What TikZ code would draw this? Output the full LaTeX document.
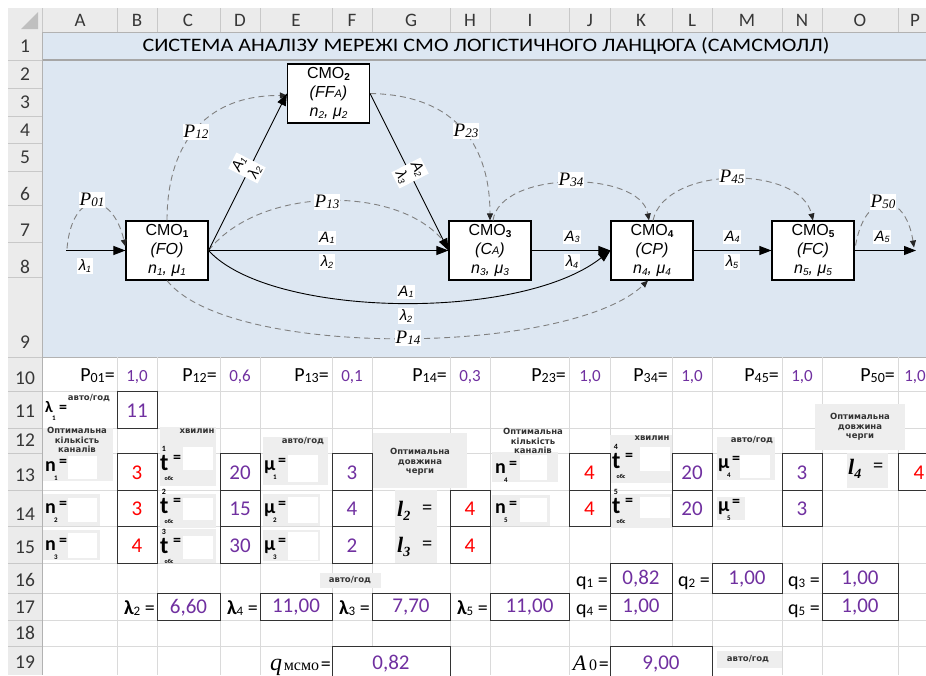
\documentclass[tikz,border=0pt]{standalone}
\usepackage{fontspec}
\setmainfont{Carlito}
\newfontfamily\arialf{Liberation Sans}
\newfontfamily\timesf{Liberation Serif}
\newfontfamily\dejaf{DejaVu Sans}
\usetikzlibrary{arrows.meta,calc}

\newcommand\fsz[1]{\fontsize{#1}{#1}\selectfont}
% lowered small index
\newcommand\lo[2][8]{\raisebox{-1.5pt}{\fsz{#1}#2}}

\definecolor{sheetblue}{RGB}{221,231,242}
\definecolor{hdrgray}{RGB}{235,235,235}
\definecolor{hdrline}{RGB}{200,200,200}
\definecolor{gridgray}{RGB}{218,218,218}
\definecolor{blockgray}{RGB}{238,238,238}
\definecolor{valpurple}{RGB}{112,48,160}
\definecolor{valred}{RGB}{255,0,0}
\definecolor{hdrtext}{RGB}{55,55,55}

% framed value cell: x1 y1 x2 y2 colour text name
\newcommand\valbox[7]{%
  \draw[boxline] (#1,#2) rectangle (#3,#4);
  \node[text=#5, font=\fsz{21}, inner sep=0pt] (#7) at ({(#1+#3)/2},{(#2+#4)/2+1}) {#6};}
% grey text-box patch and white inset
\newcommand\patch[4]{\fill[blockgray] (#1,#2) rectangle (#3,#4);}
\newcommand\inset[4]{\fill[white] (#1,#2) rectangle (#3,#4);}
% bold symbol with lower index and raised equals sign: x, baseline, symbol, index, name
\newcommand\symlab[5]{%
  \node[anchor=base west, inner sep=0pt, font=\bfseries\fsz{20}] (#5) at (#1,#2) {#3};
  \node[inner sep=0pt, font=\bfseries\fsz{7}] (#5i) at ({#1+11},{#2+7}) {#4};
  \node[inner sep=0pt, font=\bfseries\fsz{16}] (#5e) at ({#1+18},{#2-8}) {=};}
% service time t with upper index, equals sign and lower "обс"
\newcommand\tlab[4]{%
  \node[anchor=base west, inner sep=0pt, font=\bfseries\fsz{24}] (#4) at (#1,#2) {t};
  \node[inner sep=0pt, font=\bfseries\fsz{8}] (#4u) at ({#1+4},{#2-21}) {#3};
  \node[inner sep=0pt, font=\bfseries\fsz{16}] (#4e) at ({#1+17},{#2-11}) {=};
  \node[inner sep=0pt, font=\bfseries\fsz{6}] (#4o) at ({#1+9},{#2+8}) {обс};}
% queue length l with index
\newcommand\llab[4]{%
  \node[anchor=base west, inner sep=0pt, font=\timesf\bfseries\itshape\fsz{22}] (#4) at (#1,#2) {l\raisebox{-4pt}{\fsz{14}#3}};
  \node[anchor=base west, inner sep=0pt, font=\timesf\bfseries\fsz{18}] (#4e) at ({#1+25},{#2-3}) {=};}

\tikzset{
  smo/.style={draw=black, line width=1.1pt, fill=white, minimum width=82pt,
    minimum height=59pt, inner sep=0pt, align=center,
    font=\arialf\fontsize{16}{19}\selectfont},
  flow/.style={line width=0.9pt, draw=black, -{Triangle[length=12pt,width=9pt]}},
  prob/.style={draw=black!50, line width=0.9pt, dash pattern=on 6pt off 4pt,
    -{Triangle[length=7pt,width=6pt,color=black!85]}},
  plab/.style={fill=white, inner sep=1pt, font=\timesf\itshape\fsz{19}},
  alab/.style={fill=white, inner sep=1.5pt, font=\arialf\itshape\fsz{15}},
  rlab/.style={fill=white, inner sep=1.5pt, align=center, font=\arialf\itshape\fontsize{15}{18}\selectfont},
  hdr/.style={font=\fsz{19}, text=hdrtext, inner sep=0pt},
  rnum/.style={font=\fsz{19.5}, text=hdrtext, inner sep=0pt},
  boxline/.style={draw=black!80, line width=0.8pt, fill=white},
  tiny/.style={font=\dejaf\bfseries\fontsize{8.5}{9.3}\selectfont, text=black!80, align=center, inner sep=0pt},
  pname/.style={anchor=base east, inner sep=0pt, font=\fsz{20}},
  pval/.style={anchor=base, inner sep=0pt, font=\fsz{17}, text=valpurple},
  eqlab/.style={anchor=base east, inner sep=0pt, font=\fsz{20}},
}

\begin{document}
\begin{tikzpicture}[x=1pt,y=-1pt]
\useasboundingbox (0,0) rectangle (926,675);
\fill[white] (0,0) rectangle (926,675);

% ---------- sheet background and grid ----------
\fill[sheetblue] (42,32) rectangle (926,357);
\draw[black!35, line width=1.5pt] (42,60) -- (926,60);
\draw[black!30, line width=1pt] (42,357) -- (926,357);
\foreach \yy in {391,428,453,490,526,563,593,620,646}
  \draw[gridgray, line width=0.7pt] (42,\yy) -- (926,\yy);
\foreach \xx in {117,157,220,260,332,372,450,490,569,610,672,712,782,822,898}
  \draw[gridgray, line width=0.7pt] (\xx,357) -- (\xx,675);

% column header band
\fill[hdrgray] (8,8) rectangle (926,32);
\draw[black!30, line width=0.8pt] (8,32) -- (926,32);
\foreach \xx in {42,117,157,220,260,332,372,450,490,569,610,672,712,782,822,898}
  \draw[hdrline, line width=0.7pt] (\xx,8) -- (\xx,32);
\fill[black!25] (38,12) -- (38,29) -- (21,29) -- cycle;
\foreach \lab/\xx in {A/80,B/137,C/188,D/240,E/296,F/352,G/411,H/470,I/530,J/590,K/641,L/692,M/747,N/802,O/860,P/915}
  \node[hdr] (h\lab) at (\xx,20) {\lab};

% row number band
\fill[hdrgray] (8,32) rectangle (42,675);
\draw[black!30, line width=0.8pt] (42,32) -- (42,675);
\foreach \yy in {60,88,116,143,171,205,242,277,357,391,428,453,490,526,563,593,620,646}
  \draw[hdrline, line width=0.7pt] (8,\yy) -- (42,\yy);
\foreach \num/\yy in {1/46,2/74,3/102,4/130,5/157,6/194,7/230,8/267,9/342,10/378,11/411,12/440,13/475,14/514,15/547,16/580,17/607,18/633,19/662}
  \node[rnum] (r\num) at (25,\yy) {\num};

% ---------- title ----------
\node[inner sep=0pt] (title) at (486,46)
  {\scalebox{1.16}[1]{\fsz{19}СИСТЕМА АНАЛІЗУ МЕРЕЖІ СМО ЛОГІСТИЧНОГО ЛАНЦЮГА (САМСМОЛЛ)}};

% ---------- queueing network ----------
\node[smo] (c1) at (167,250.5) {СМО\lo[10]{\bfseries 1}\\\textit{(FO)}\\\textit{n\lo[10]{1}, μ\lo[10]{1}}};
\node[smo] (c2) at (328.5,93.5) {СМО\lo[10]{\bfseries 2}\\\textit{(FF{\fsz{11}A})}\\\textit{n\lo[10]{2}, μ\lo[10]{2}}};
\node[smo] (c3) at (490,250.5) {СМО\lo[10]{\bfseries 3}\\\textit{(C{\fsz{11}A})}\\\textit{n\lo[10]{3}, μ\lo[10]{3}}};
\node[smo] (c4) at (652,250.5) {СМО\lo[10]{\bfseries 4}\\\textit{(CP)}\\\textit{n\lo[10]{4}, μ\lo[10]{4}}};
\node[smo] (c5) at (813,250.5) {СМО\lo[10]{\bfseries 5}\\\textit{(FC)}\\\textit{n\lo[10]{5}, μ\lo[10]{5}}};
\coordinate (in) at (66,250.5);
\coordinate (out) at (916,250.5);

% transition probabilities (dashed)
\draw[prob] ($(in)+(1,-2)$) .. controls (72,190) and (112,190) .. ($(c1.west)+(0,-4)$);
\draw[prob] (c1.north) .. controls (167,150) and (200,95) .. ($(c2.west)+(0,2)$);
\draw[prob] (c2.east) .. controls (460,95) and (490,150) .. (c3.north);
\draw[prob] (c1.east) .. controls (260,185) and (400,185) .. ($(c3.west)+(0,-3)$);
\draw[prob] (c1.south) .. controls (230,360) and (570,355) .. ($(c4.south)+(-4,0)$);
\draw[prob] ($(c3.north)+(3,0)$) .. controls (500,170) and (640,170) .. ($(c4.north)+(-3,0)$);
\draw[prob] ($(c4.north)+(1,0)$) .. controls (665,165) and (800,165) .. (c5.north);
\draw[prob] ($(c5.east)+(1,-5)$) .. controls (865,190) and (905,190) .. ($(out)+(-2,-3)$);

% flows (solid)
\draw[flow] (in) -- (c1.west);
\draw[flow] (c1.east) -- (c2.west);
\draw[flow] (c2.east) -- (c3.west);
\draw[flow] (c1.east) -- (c3.west);
\draw[flow] (c1.east) .. controls (270,318) and (520,322) .. (c4.west);
\draw[flow] (c3.east) -- (c4.west);
\draw[flow] (c4.east) -- (c5.west);
\draw[flow] (c5.east) -- (out);

% connector labels
\node[alab] (lin) at (85,266) {λ\lo[9]{1}};
\node[plab] (p01) at (92,200) {P\lo[13]{01}};
\node[plab] (p12) at (196,132) {P\lo[13]{12}};
\node[plab] (p23) at (466,131) {P\lo[13]{23}};
\node[plab] (p13) at (327,202) {P\lo[13]{13}};
\node[plab] (p14) at (408,338) {P\lo[13]{14}};
\node[plab] (p34) at (571,180) {P\lo[13]{34}};
\node[plab] (p45) at (732,177) {P\lo[13]{45}};
\node[plab] (p50) at (883,202) {P\lo[13]{50}};
\node[rlab, rotate=63] (f12) at (247,168) {A\lo[9]{1}\\λ\lo[9]{2}};
\node[rlab, rotate=-63] (f23) at (410,173) {A\lo[9]{2}\\λ\lo[9]{3}};
\node[alab] (f13a) at (327,238) {A\lo[9]{1}};
\node[alab] (f13b) at (327,262) {λ\lo[9]{2}};
\node[alab] (f14a) at (406,292) {A\lo[9]{1}};
\node[alab] (f14b) at (406,316) {λ\lo[9]{2}};
\node[alab] (f34a) at (572,237) {A\lo[9]{3}};
\node[alab] (f34b) at (572,262) {λ\lo[9]{4}};
\node[alab] (f45a) at (732,237) {A\lo[9]{4}};
\node[alab] (f45b) at (732,262) {λ\lo[9]{5}};
\node[alab] (f50a) at (882,237) {A\lo[9]{5}};

% ---------- input table ----------
% row 10: probabilities
\node[pname] (n01) at (115,381) {P\lo[14]{01}=};  \node[pval] (v01) at (137,381) {1,0};
\node[pname] (n12) at (217,381) {P\lo[14]{12}=};  \node[pval] (v12) at (240,381) {0,6};
\node[pname] (n13) at (329,381) {P\lo[14]{13}=};  \node[pval] (v13) at (352,381) {0,1};
\node[pname] (n14) at (447,381) {P\lo[14]{14}=};  \node[pval] (v14) at (470,381) {0,3};
\node[pname] (n23) at (566,381) {P\lo[14]{23}=};  \node[pval] (v23) at (590,381) {1,0};
\node[pname] (n34) at (668,381) {P\lo[14]{34}=};  \node[pval] (v34) at (692,381) {1,0};
\node[pname] (n45) at (779,381) {P\lo[14]{45}=};  \node[pval] (v45) at (802,381) {1,0};
\node[pname] (n50) at (895,381) {P\lo[14]{50}=};  \node[pval] (v50) at (915,381) {1,0};

% grey text-box patches
\patch{43}{428}{113}{481} \inset{68}{456}{97}{479}
\patch{43}{494}{100}{526} \inset{68}{498}{97}{522}
\patch{43}{530}{100}{560} \inset{68}{533}{97}{558}
\patch{160}{427}{216}{486} \inset{183}{447}{213}{470}
\patch{160}{494}{216}{528} \inset{183}{498}{213}{520}
\patch{160}{529}{216}{563} \inset{183}{536}{213}{559}
\patch{263}{437}{328}{485} \inset{288}{455}{318}{482}
\patch{263}{494}{320}{526} \inset{288}{497}{318}{523}
\patch{263}{530}{320}{561} \inset{288}{532}{318}{560}
\patch{373}{433}{467}{488}
\patch{395}{490}{437}{530}
\patch{395}{530}{437}{563}
\patch{492}{452}{558}{482} \inset{520}{455}{547}{480}
\patch{492}{495}{550}{526} \inset{520}{498}{547}{522}
\patch{610}{435}{672}{483} \inset{640}{447}{670}{471}
\patch{610}{494}{672}{528} \inset{640}{497}{670}{518}
\patch{717}{437}{775}{480} \inset{740}{455}{770}{478}
\patch{717}{497}{745}{520}
\patch{815}{404}{905}{450}
\patch{847}{453}{888}{488}
\patch{320}{573}{381}{588}
\patch{717}{651}{782}{668}

% unit and caption notes
\node[tiny] (u11) at (89,398) {авто/год};
\node[tiny] (k1) at (77,440) {Оптимальна\\кількість\\каналів};
\node[tiny] (m1) at (197,431) {хвилин};
\node[tiny] (u13) at (303,441) {авто/год};
\node[tiny] (o1) at (420,462) {Оптимальна\\довжина\\черги};
\node[tiny] (k2) at (533,441) {Оптимальна\\кількість\\каналів};
\node[tiny] (m2) at (652,438) {хвилин};
\node[tiny] (u23) at (752,440) {авто/год};
\node[tiny] (o2) at (860,427) {Оптимальна\\довжина\\черги};
\node[tiny] (u16) at (350,580) {авто/год};
\node[tiny] (u19) at (748,659) {авто/год};

% symbols
\node[anchor=base west, inner sep=0pt, font=\bfseries\fsz{16}] (lam1) at (45,412) {λ};
\node[inner sep=0pt, font=\bfseries\fsz{7}] (lam1i) at (54,418) {1};
\node[inner sep=0pt, font=\bfseries\fsz{16}] (lam1e) at (63,409) {=};
\symlab{45}{471}{n}{1}{sn1}
\symlab{45}{513}{n}{2}{sn2}
\symlab{45}{550}{n}{3}{sn3}
\symlab{495}{473}{n}{4}{sn4}
\symlab{495}{513}{n}{5}{sn5}
\symlab{264}{470}{μ}{1}{sm1}
\symlab{264}{513}{μ}{2}{sm2}
\symlab{264}{550}{μ}{3}{sm3}
\symlab{718}{468}{μ}{4}{sm4}
\symlab{718}{511}{μ}{5}{sm5}
\tlab{160}{470}{1}{st1}
\tlab{160}{513}{2}{st2}
\tlab{160}{553}{3}{st3}
\tlab{612}{468}{4}{st4}
\tlab{612}{513}{5}{st5}
\llab{397}{516}{2}{sl2}
\llab{397}{552}{3}{sl3}
\llab{848}{474}{4}{sl4}

% framed values
\valbox{117}{391}{157}{428}{valpurple}{11}{b11}
\valbox{117}{453}{157}{490}{valred}{3}{b13}
\valbox{117}{490}{157}{526}{valred}{3}{b14}
\valbox{117}{526}{157}{563}{valred}{4}{b15}
\valbox{220}{453}{260}{490}{valpurple}{20}{d13}
\valbox{220}{490}{260}{526}{valpurple}{15}{d14}
\valbox{220}{526}{260}{563}{valpurple}{30}{d15}
\valbox{332}{453}{372}{490}{valpurple}{3}{f13}
\valbox{332}{490}{372}{526}{valpurple}{4}{f14}
\valbox{332}{526}{372}{563}{valpurple}{2}{f15}
\valbox{450}{490}{490}{526}{valred}{4}{h14}
\valbox{450}{526}{490}{563}{valred}{4}{h15}
\valbox{569}{453}{610}{490}{valred}{4}{j13}
\valbox{569}{490}{610}{526}{valred}{4}{j14}
\valbox{672}{453}{712}{490}{valpurple}{20}{l13}
\valbox{672}{490}{712}{526}{valpurple}{20}{l14}
\valbox{782}{453}{822}{490}{valpurple}{3}{n13}
\valbox{782}{490}{822}{526}{valpurple}{3}{n14}
\valbox{898}{453}{940}{490}{valred}{4}{p13}

% ---------- results ----------
\node[eqlab] (q1l) at (608,586) {q\lo[13]{1} =};
\node[eqlab] (q2l) at (710,586) {q\lo[13]{2} =};
\node[eqlab] (q3l) at (820,586) {q\lo[13]{3} =};
\node[eqlab] (q4l) at (608,614) {q\lo[13]{4} =};
\node[eqlab] (q5l) at (820,614) {q\lo[13]{5} =};
\node[eqlab] (l2l) at (155,614) {\textbf{λ}\lo[13]{2} =};
\node[eqlab] (l4l) at (258,614) {\textbf{λ}\lo[13]{4} =};
\node[eqlab] (l3l) at (370,614) {\textbf{λ}\lo[13]{3} =};
\node[eqlab] (l5l) at (488,614) {\textbf{λ}\lo[13]{5} =};
\valbox{610}{563}{672}{593}{valpurple}{0,82}{k16}
\valbox{712}{563}{782}{593}{valpurple}{1,00}{m16}
\valbox{822}{563}{898}{593}{valpurple}{1,00}{o16}
\valbox{157}{593}{220}{620}{valpurple}{6,60}{c17}
\valbox{260}{593}{332}{620}{valpurple}{11,00}{e17}
\valbox{372}{593}{450}{620}{valpurple}{7,70}{g17}
\valbox{490}{593}{569}{620}{valpurple}{11,00}{i17}
\valbox{610}{593}{672}{620}{valpurple}{1,00}{k17}
\valbox{822}{593}{898}{620}{valpurple}{1,00}{o17}

\node[anchor=base east, inner sep=0pt] (qsys) at (331,670)
  {{\timesf\itshape\fsz{24}q}\,{\timesf\fsz{16}мсмо}\,{\fsz{20}=}};
\node[anchor=base east, inner sep=0pt] (a0) at (609,670)
  {{\timesf\itshape\fsz{22}A}\;{\timesf\fsz{16}0}\,{\fsz{20}=}};
\valbox{332}{646}{450}{680}{valpurple}{0,82}{f19}
\valbox{610}{646}{712}{680}{valpurple}{9,00}{k19}
\end{tikzpicture}
\end{document}
